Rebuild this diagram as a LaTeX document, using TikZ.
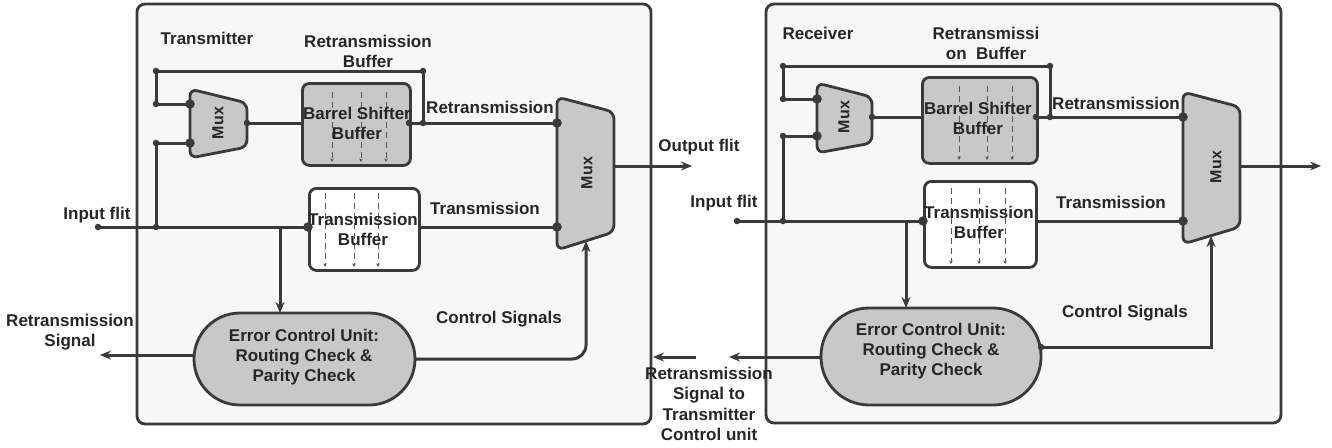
\documentclass[tikz,border=0pt]{standalone}
\usepackage{fontspec}
\setmainfont{Liberation Sans}
\usetikzlibrary{arrows.meta}
\definecolor{ink}{HTML}{3A3A3A}
\definecolor{unitfill}{HTML}{C8C8C8}
\definecolor{panelfill}{HTML}{F7F7F7}
\tikzset{
  panel/.style={draw=ink, line width=2.8pt, fill=panelfill, rounded corners=8pt},
  wire/.style={draw=ink, line width=3pt},
  arr/.style={wire, -{Stealth[length=11pt,width=9pt]}},
  unit/.style={draw=ink, line width=2.8pt, fill=unitfill, rounded corners=7pt},
  bufwhite/.style={draw=ink, line width=2.8pt, fill=white, rounded corners=7pt},
  muxshape/.style={draw=ink, line width=2.8pt, fill=unitfill, rounded corners=7pt},
  lane/.style={draw=ink!85, line width=1pt, dash pattern=on 6pt off 4pt, -{Stealth[length=3.5pt,width=3.5pt]}},
  lbl/.style={font=\fontsize{17}{20}\selectfont\bfseries, text=black!85, align=center, inner sep=0pt},
  muxlbl/.style={font=\fontsize{16}{18}\selectfont\bfseries, text=black!85, rotate=90, inner sep=0pt},
  jdot/.style={circle, fill=ink, inner sep=0pt, minimum size=6.5pt},
  pdot/.style={circle, fill=ink, inner sep=0pt, minimum size=9.5pt},
}
\begin{document}
\begin{tikzpicture}[x=1pt, y=-1pt]
\useasboundingbox (0,0) rectangle (1332,447);

% ---------------- panels ----------------
\draw[panel] (137,4) rectangle (651,424);
\draw[panel] (766,4) rectangle (1281,423);

% ================= Transmitter =================
% buffers
\node[unit, minimum width=108pt, minimum height=82pt, anchor=north west] (bsA) at (301,82) {};
\node[bufwhite, minimum width=110pt, minimum height=82pt, anchor=north west] (tbA) at (308,187) {};
\foreach \x in {332,361,386} \draw[lane] (\x,92) -- (\x,162);
\foreach \x in {325,354,378} \draw[lane] (\x,193) -- (\x,267);
\node[lbl] (bsAt) at (357,123) {Barrel Shifter\\Buffer};
\node[lbl] (tbAt) at (363,229) {Transmission\\Buffer};

% multiplexers
\draw[muxshape] (190,89) -- (247,103) -- (247,147) -- (190,158) -- cycle;
\node[muxlbl] (muxAa) at (218,123) {Mux};
\draw[muxshape] (557,97) -- (614,112) -- (614,232) -- (557,250) -- cycle;
\node[muxlbl] (muxAb) at (587,173) {Mux};

% error control unit
\node[unit, rounded corners=46pt, minimum width=221pt, minimum height=92pt] (ecuA) at (304.5,359) {};
\node[lbl] (ecuAt) at (304,357) {Error Control Unit:\\Routing Check \&\\Parity Check};

% ports and junctions
\coordinate (inA) at (98,227);
\coordinate (jA1) at (156,227);
\coordinate (jA2) at (156,143);
\coordinate (jA3) at (156,104);
\coordinate (jA4) at (156,71);
\coordinate (jA5) at (423,71);
\coordinate (jA6) at (423,123);
\coordinate (mAi1) at (190,104);
\coordinate (mAi2) at (190,143);
\coordinate (mAo) at (247,123);
\coordinate (bsAi) at (301,123);
\coordinate (bsAo) at (409,123);
\coordinate (tbAi) at (308,227);
\coordinate (tbAo) at (418,227);
\coordinate (mBi1) at (557,123);
\coordinate (mBi2) at (557,227);
\coordinate (mBo) at (614,166);
\coordinate (mBc) at (586,241);
\coordinate (brA) at (280,227);
\coordinate (ecuAin) at (280,313);
\coordinate (ecuAl) at (194,355);
\coordinate (ecuAr) at (415,359);
\coordinate (sigA) at (100,355);
\coordinate (outA) at (692,166);

% wiring
\draw[wire] (inA) -- (tbAi);
\draw[wire] (jA1) -- (jA2) -- (mAi2);
\draw[wire] (mAi1) -- (jA3) -- (jA4) -- (jA5) -- (jA6);
\draw[wire] (mAo) -- (bsAi);
\draw[wire] (bsAo) -- (mBi1);
\draw[wire] (tbAo) -- (mBi2);
\draw[arr] (mBo) -- (outA);
\draw[arr] (brA) -- (ecuAin);
\draw[arr] (ecuAl) -- (sigA);
\draw[arr, rounded corners=14pt] (ecuAr) -| (mBc);

\foreach \p in {inA,jA1,jA2,jA3,jA4,jA5,jA6,mAo,bsAo} \node[jdot] at (\p) {};
\foreach \p in {mAi1,mAi2,tbAi,mBi1,mBi2} \node[pdot] at (\p) {};

% labels
\node[lbl] (tA) at (207,38) {Transmitter};
\node[lbl] (rbA) at (368,51) {Retransmission\\Buffer};
\node[lbl] (rA) at (490,107) {Retransmission};
\node[lbl] (trA) at (485,208) {Transmission};
\node[lbl] (ofA) at (699,147) {Output flit};
\node[lbl] (ifA) at (97,215) {Input flit};
\node[lbl] (csA) at (499,319) {Control Signals};
\node[lbl] (rsA) at (70,332) {Retransmission\\Signal};

% ================= Receiver =================
\node[unit, minimum width=115pt, minimum height=86pt, anchor=north west] (bsB) at (921,76) {};
\node[bufwhite, minimum width=112pt, minimum height=86pt, anchor=north west] (tbB) at (923,180) {};
\foreach \x in {959,987,1012} \draw[lane] (\x,86) -- (\x,160);
\foreach \x in {951,979,1005} \draw[lane] (\x,188) -- (\x,264);
\node[lbl] (bsBt) at (978,118) {Barrel Shifter\\Buffer};
\node[lbl] (tbBt) at (979,222) {Transmission\\Buffer};

\draw[muxshape] (817,83) -- (872,97) -- (872,143) -- (817,153) -- cycle;
\node[muxlbl] (muxBa) at (844,117) {Mux};
\draw[muxshape] (1183,92) -- (1240,107) -- (1240,227) -- (1183,244) -- cycle;
\node[muxlbl] (muxBb) at (1216,167) {Mux};

\node[unit, rounded corners=48pt, minimum width=220pt, minimum height=97pt] (ecuB) at (931,356.5) {};
\node[lbl] (ecuBt) at (931,351) {Error Control Unit:\\Routing Check \&\\Parity Check};

\coordinate (inB) at (737,221);
\coordinate (jB1) at (783,221);
\coordinate (jB2) at (783,136);
\coordinate (jB3) at (783,99);
\coordinate (jB4) at (783,66);
\coordinate (jB5) at (1050,66);
\coordinate (jB6) at (1050,117);
\coordinate (mCi1) at (817,99);
\coordinate (mCi2) at (817,136);
\coordinate (mCo) at (872,117);
\coordinate (bsBi) at (921,117);
\coordinate (bsBo) at (1036,117);
\coordinate (tbBi) at (923,221);
\coordinate (tbBo) at (1035,221);
\coordinate (mDi1) at (1183,117);
\coordinate (mDi2) at (1183,221);
\coordinate (mDo) at (1240,166);
\coordinate (mDc) at (1211,236);
\coordinate (brB) at (906,221);
\coordinate (ecuBin) at (906,308);
\coordinate (ecuBl) at (821,357);
\coordinate (ecuBr) at (1041,347);
\coordinate (sigB) at (729,357);
\coordinate (sigCs) at (696,357);
\coordinate (sigCe) at (653,357);
\coordinate (outB) at (1321,166);

\draw[wire] (inB) -- (tbBi);
\draw[wire] (jB1) -- (jB2) -- (mCi2);
\draw[wire] (mCi1) -- (jB3) -- (jB4) -- (jB5) -- (jB6);
\draw[wire] (mCo) -- (bsBi);
\draw[wire] (bsBo) -- (mDi1);
\draw[wire] (tbBo) -- (mDi2);
\draw[arr] (mDo) -- (outB);
\draw[arr] (brB) -- (ecuBin);
\draw[arr] (ecuBl) -- (sigB);
\draw[arr] (sigCs) -- (sigCe);
\draw[arr] (ecuBr) -| (mDc);

\foreach \p in {inB,jB1,jB2,jB3,jB4,jB5,jB6,mCo,bsBo,ecuBr} \node[jdot] at (\p) {};
\foreach \p in {mCi1,mCi2,tbBi,mDi1,mDi2} \node[pdot] at (\p) {};

\node[lbl] (tB) at (818,33) {Receiver};
\node[lbl] (rbB) at (986,43) {Retransmissi\\on\ \ Buffer};
\node[lbl] (rB) at (1116,103) {Retransmission};
\node[lbl] (trB) at (1111,202) {Transmission};
\node[lbl] (ifB) at (724,203) {Input flit};
\node[lbl] (csB) at (1125,313) {Control Signals};
\node[lbl, font=\fontsize{17}{20.5}\selectfont\bfseries] (rsB) at (709,404) {Retransmission\\Signal to\\Transmitter\\Control unit};
\end{tikzpicture}
\end{document}
